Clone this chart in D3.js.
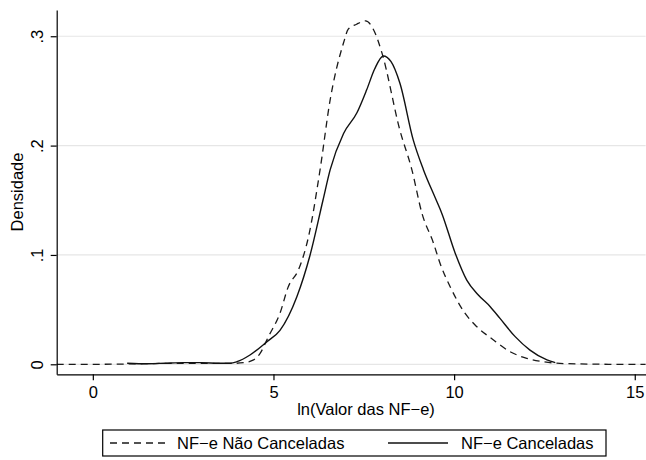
<!DOCTYPE html>
<html>
<head>
<meta charset="utf-8">
<script src="https://cdn.jsdelivr.net/npm/d3@7"></script>
<style>
body{margin:0;background:#fff}
svg text{font-family:"Liberation Sans",Arial,Helvetica,sans-serif;fill:#000}
</style>
</head>
<body>
<svg width="646" height="460"></svg>
<script>
// NF-e Nao Canceladas (dashed)
var naoX = [-1, 0, 1, 2, 3, 3.8, 4.17, 4.45, 4.63, 4.86, 5.18, 5.41, 5.69, 5.97, 6.29, 6.57, 6.94, 7.07, 7.3, 7.55, 7.77, 8.0, 8.5, 8.83, 9.11, 9.43, 9.61, 9.89, 10.3, 10.58, 11.09, 11.55, 12.01, 12.47, 12.84, 13.5, 14.5, 15.3]
var naoY = [0, 0, 0.0003, 0.0008, 0.0008, 0.0008, 0.0015, 0.004, 0.010, 0.0253, 0.0467, 0.071, 0.0863, 0.1167, 0.178, 0.242, 0.294, 0.3065, 0.311, 0.314, 0.306, 0.285, 0.214, 0.178, 0.138, 0.1107, 0.0924, 0.071, 0.0467, 0.036, 0.0222, 0.0115, 0.0055, 0.0024, 0.001, 0.0003, 0, 0]

// NF-e Canceladas (solid)
var canX = [0.95, 1.5, 2, 2.5, 3, 3.5, 3.8, 3.99, 4.35, 4.82, 5.18, 5.65, 6.01, 6.37, 6.57, 6.94, 7.31, 7.58, 7.8, 8.04, 8.25, 8.5, 8.87, 9.15, 9.48, 9.66, 10.03, 10.35, 10.67, 11.0, 11.27, 11.69, 12.1, 12.57, 12.8]
var canY = [0.001, 0.0005, 0.001, 0.0015, 0.0015, 0.001, 0.001, 0.0024, 0.0085, 0.0207, 0.031, 0.062, 0.0995, 0.150, 0.178, 0.211, 0.230, 0.251, 0.27, 0.282, 0.277, 0.257, 0.205, 0.178, 0.152, 0.138, 0.1016, 0.077, 0.0634, 0.0527, 0.042, 0.0253, 0.013, 0.004, 0.0015]

var xTicks = [0, 5, 10, 15]
var yTicks = [0, 0.1, 0.2, 0.3]
var legendLabels = ['NF\u2212e Não Canceladas', 'NF\u2212e Canceladas']
var xTitle = 'ln(Valor das NF\u2212e)'
var yTitle = 'Densidade'

var svg = d3.select('svg')
var fs = '16.5px'

var x = d3.scaleLinear().domain([-1, 15.3]).range([56.7, 645.6])
var y = d3.scaleLinear().domain([-0.00915, 0.324]).range([374.3, 10])

// grid
svg.append('g').selectAll('line')
  .data(yTicks).enter().append('line')
  .attr('x1', x(-1)).attr('x2', x(15.3))
  .attr('y1', function(d){return y(d)}).attr('y2', function(d){return y(d)})
  .attr('stroke', '#e6e6e6').attr('stroke-width', 1.2)

var line = d3.line()
  .x(function(d){return x(d[0])})
  .y(function(d){return y(d[1])})
  .curve(d3.curveMonotoneX)

var nao = naoX.map(function(v,i){return [v, naoY[i]]})
var can = canX.map(function(v,i){return [v, canY[i]]})

svg.append('path').datum(nao)
  .attr('d', line).attr('fill','none')
  .attr('stroke','#1a1a1a').attr('stroke-width',1.3)
  .attr('stroke-dasharray','7,5')

svg.append('path').datum(can)
  .attr('d', line).attr('fill','none')
  .attr('stroke','#111').attr('stroke-width',1.4)

// axes
var xAxis = svg.append('g')
  .attr('transform','translate(0,' + y.range()[0] + ')')
  .call(d3.axisBottom(x).tickValues(xTicks).tickSize(6).tickSizeOuter(0).tickFormat(d3.format('d')))
xAxis.selectAll('text').attr('y', 12).style('font-size', fs)

var fmtY = function(d){ return d === 0 ? '0' : d3.format('.1f')(d).replace('0.', '.') }
var yAxis = svg.append('g')
  .attr('transform','translate(' + x.range()[0] + ',0)')
  .call(d3.axisLeft(y).tickValues(yTicks).tickSize(6).tickSizeOuter(0).tickFormat(fmtY))
yAxis.selectAll('text')
  .attr('x', 0).attr('dy', null).attr('y', -14)
  .attr('text-anchor','middle')
  .attr('transform','rotate(-90)')
  .style('font-size', fs)
svg.selectAll('.domain, .tick line').attr('stroke','#000').attr('stroke-width',1.2)

// titles
svg.append('text').attr('x', 366).attr('y', 415)
  .attr('text-anchor','middle').style('font-size', fs).text(xTitle)
svg.append('text')
  .attr('transform','translate(23,192) rotate(-90)')
  .attr('text-anchor','middle').style('font-size', fs).text(yTitle)

// legend
var lg = svg.append('g')
lg.append('rect').attr('x',102.7).attr('y',430).attr('width',503.3).attr('height',26)
  .attr('fill','#fff').attr('stroke','#000').attr('stroke-width',1.2)
lg.append('line').attr('x1',110).attr('x2',170).attr('y1',443).attr('y2',443)
  .attr('stroke','#1a1a1a').attr('stroke-width',1.3).attr('stroke-dasharray','7,5')
lg.append('text').attr('x',177).attr('y',449).style('font-size', fs).text(legendLabels[0])
lg.append('line').attr('x1',388).attr('x2',448).attr('y1',443).attr('y2',443)
  .attr('stroke','#111').attr('stroke-width',1.4)
lg.append('text').attr('x',461).attr('y',449).style('font-size', fs).text(legendLabels[1])
</script>
</body>
</html>
